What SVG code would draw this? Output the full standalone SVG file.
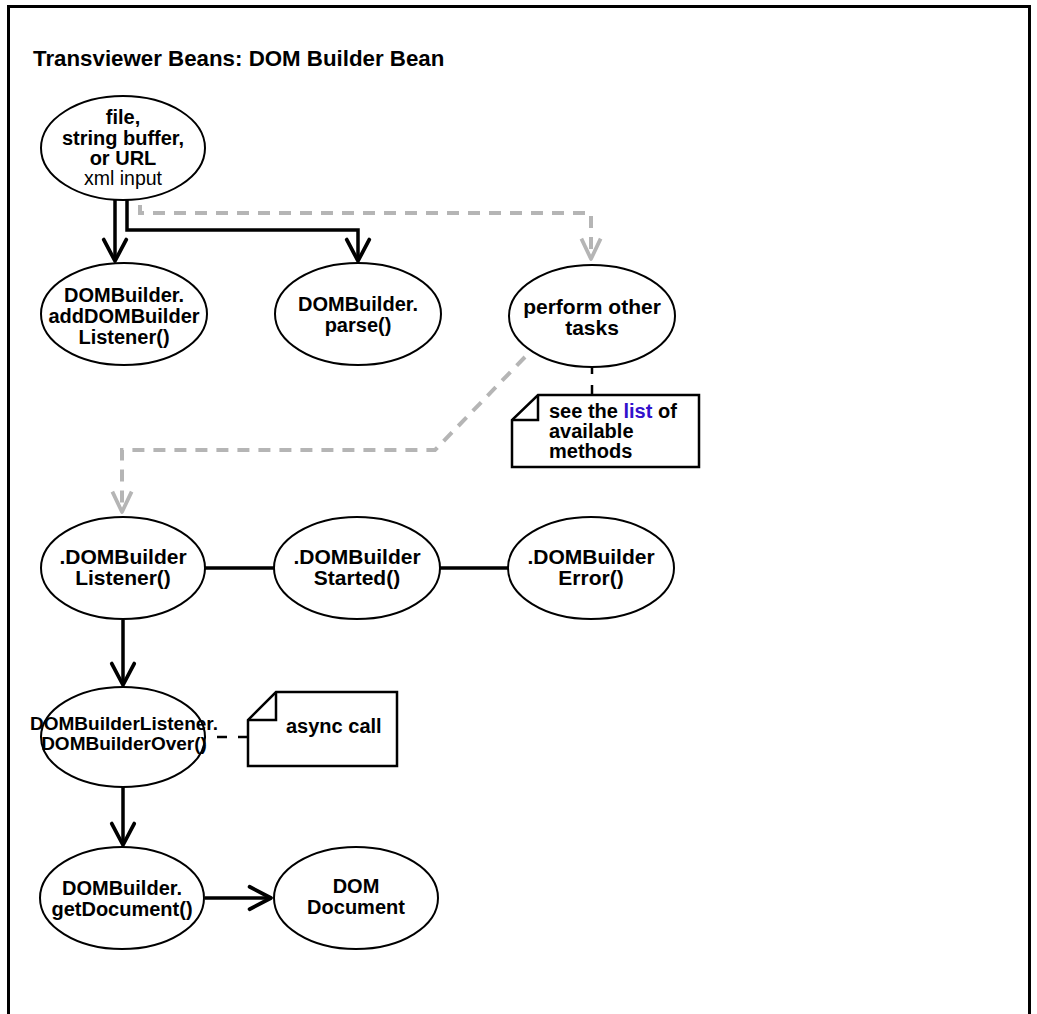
<svg xmlns="http://www.w3.org/2000/svg" width="1037" height="1014" viewBox="0 0 1037 1014">
<style>
  text { font-family: "Liberation Sans", Arial, sans-serif; fill: #000; }
  .t { font-size: 20px; font-weight: bold; text-anchor: middle; }
  .r { font-size: 19.5px; font-weight: normal; text-anchor: middle; }
  .n { font-size: 20px; font-weight: bold; }
  .title { font-size: 22.3px; font-weight: bold; }
  .node { fill: #fff; stroke: #000; stroke-width: 2; }
  .note { fill: #fff; stroke: #000; stroke-width: 2.5; stroke-linejoin: miter; }
  .fold { fill: none; stroke: #000; stroke-width: 2.5; }
  .solid { fill: none; stroke: #000; stroke-width: 3.5; }
  .link { fill: none; stroke: #000; stroke-width: 3.5; marker-end: url(#arrB); }
  .gray { fill: none; stroke: #b5b5b5; stroke-width: 4; stroke-dasharray: 12 9; marker-end: url(#arrG); }
  .dash { fill: none; stroke: #000; stroke-width: 2.5; stroke-dasharray: 10 11; }
  .blue { fill: #3311cc; }
</style>
<defs>
  <marker id="arrB" markerUnits="userSpaceOnUse" markerWidth="30" markerHeight="30" viewBox="-24 -14 28 28" refX="0" refY="0" orient="auto">
    <path d="M-20,-10.5 L0,0 L-20,10.5" fill="none" stroke="#000" stroke-width="3.5" stroke-linejoin="round" stroke-linecap="round"/>
  </marker>
  <marker id="arrG" markerUnits="userSpaceOnUse" markerWidth="30" markerHeight="30" viewBox="-24 -14 28 28" refX="0" refY="0" orient="auto">
    <path d="M-19,-9 L0,0 L-19,9" fill="none" stroke="#b5b5b5" stroke-width="3.5" stroke-linejoin="round"/>
  </marker>
</defs>
<rect x="0" y="0" width="1037" height="1014" fill="#fff"/>
<rect id="frame" x="8.5" y="6.5" width="1021" height="1100" fill="none" stroke="#000" stroke-width="3"/>
<text class="title" x="33" y="66">Transviewer Beans: DOM Builder Bean</text>

<g id="connectors">
  <path class="link" d="M115,200 V261"/>
  <path class="link" d="M127,200 V230 H358 V261"/>
  <path class="gray" d="M140,205 V213 H591 V259"/>
  <path class="gray" d="M525,357 L435,450 H122 V512"/>
  <path class="dash" d="M592,395 V367"/>
  <path class="solid" d="M205,568 H274"/>
  <path class="solid" d="M440,568 H508"/>
  <path class="link" d="M123,620 V685"/>
  <path class="dash" d="M248,737 H205"/>
  <path class="link" d="M123,787 V845"/>
  <path class="link" d="M205,898 H271"/>
</g>

<g id="node-input">
  <ellipse class="node" cx="123" cy="148" rx="82" ry="52"/>
  <text class="t" x="123" y="124">file,</text>
  <text class="t" x="123" y="144.5">string buffer,</text>
  <text class="t" x="123" y="165">or URL</text>
  <text class="r" x="123" y="185">xml input</text>
</g>

<g id="node-addListener">
  <ellipse class="node" cx="124" cy="314" rx="83" ry="51"/>
  <text class="t" x="124" y="302">DOMBuilder.</text>
  <text class="t" x="124" y="323">addDOMBuilder</text>
  <text class="t" x="124" y="344">Listener()</text>
</g>

<g id="node-parse">
  <ellipse class="node" cx="358" cy="314" rx="83" ry="51"/>
  <text class="t" x="358" y="311">DOMBuilder.</text>
  <text class="t" x="358" y="332">parse()</text>
</g>

<g id="node-perform">
  <ellipse class="node" cx="592" cy="316" rx="83" ry="51"/>
  <text class="t" x="592" y="314" style="font-size:21px">perform other</text>
  <text class="t" x="592" y="335" style="font-size:21px">tasks</text>
</g>

<g id="note-list">
  <path class="note" d="M538,395 H699 V467 H512 V420 Z"/>
  <path class="fold" d="M538,395 V420 H512"/>
  <text class="n" x="549" y="418">see the <tspan class="blue">list</tspan> of</text>
  <text class="n" x="549" y="438">available</text>
  <text class="n" x="549" y="458">methods</text>
</g>

<g id="node-listener">
  <ellipse class="node" cx="123" cy="568" rx="82" ry="51"/>
  <text class="t" x="123" y="564" style="font-size:21px">.DOMBuilder</text>
  <text class="t" x="123" y="585" style="font-size:21px">Listener()</text>
</g>

<g id="node-started">
  <ellipse class="node" cx="357" cy="568" rx="83" ry="51"/>
  <text class="t" x="357" y="564" style="font-size:21px">.DOMBuilder</text>
  <text class="t" x="357" y="585" style="font-size:21px">Started()</text>
</g>

<g id="node-error">
  <ellipse class="node" cx="591" cy="568" rx="83" ry="51"/>
  <text class="t" x="591" y="564" style="font-size:21px">.DOMBuilder</text>
  <text class="t" x="591" y="585" style="font-size:21px">Error()</text>
</g>

<g id="node-over">
  <ellipse class="node" cx="123" cy="737" rx="82" ry="50"/>
  <text class="t" x="124" y="730" style="font-size:19px">DOMBuilderListener.</text>
  <text class="t" x="124" y="750" style="font-size:19px">DOMBuilderOver()</text>
</g>

<g id="note-async">
  <path class="note" d="M276,692 H397 V766 H248 V720 Z"/>
  <path class="fold" d="M276,692 V720 H248"/>
  <text class="n" x="286" y="733">async call</text>
</g>

<g id="node-getDocument">
  <ellipse class="node" cx="122" cy="898" rx="82" ry="51"/>
  <text class="t" x="122" y="895">DOMBuilder.</text>
  <text class="t" x="122" y="916">getDocument()</text>
</g>

<g id="node-document">
  <ellipse class="node" cx="356" cy="898" rx="82" ry="51"/>
  <text class="t" x="356" y="893">DOM</text>
  <text class="t" x="356" y="914">Document</text>
</g>
</svg>
